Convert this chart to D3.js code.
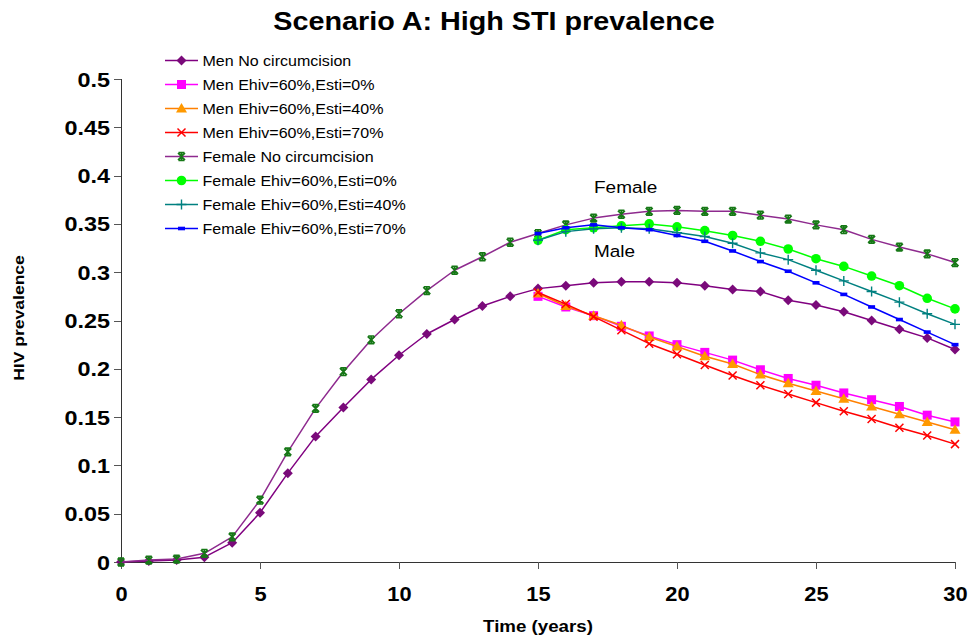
<!DOCTYPE html>
<html>
<head>
<meta charset="utf-8">
<script src="https://cdn.jsdelivr.net/npm/d3@7"></script>
<style>
  html, body { margin: 0; padding: 0; background: #fff; }
  svg { display: block; }
  text { font-family: "Liberation Sans", Arial, sans-serif; }
</style>
</head>
<body>
<svg id="chart" width="971" height="641"></svg>
<script>
// ---------------- DATA ----------------
const years = [0,1,2,3,4,5,6,7,8,9,10,11,12,13,14,15,16,17,18,19,20,21,22,23,24,25,26,27,28,29,30];
const yearsIntervention = [15,16,17,18,19,20,21,22,23,24,25,26,27,28,29,30];

const menNoCirc = [0, 0.001, 0.002, 0.005, 0.020, 0.051, 0.092, 0.130, 0.160, 0.189, 0.214, 0.236, 0.251, 0.265, 0.275, 0.283, 0.286, 0.289, 0.290, 0.290, 0.289, 0.286, 0.282, 0.280, 0.271, 0.266, 0.259, 0.250, 0.241, 0.232, 0.220];
const menEsti0  = [0.275, 0.264, 0.255, 0.244, 0.234, 0.225, 0.217, 0.209, 0.199, 0.190, 0.183, 0.175, 0.168, 0.161, 0.152, 0.145];
const menEsti40 = [0.278, 0.265, 0.255, 0.245, 0.233, 0.223, 0.213, 0.205, 0.194, 0.185, 0.177, 0.169, 0.161, 0.153, 0.145, 0.137];
const menEsti70 = [0.279, 0.267, 0.254, 0.240, 0.226, 0.215, 0.204, 0.193, 0.183, 0.174, 0.165, 0.156, 0.148, 0.139, 0.131, 0.122];

const femNoCirc = [0, 0.002, 0.003, 0.009, 0.026, 0.064, 0.114, 0.159, 0.197, 0.230, 0.257, 0.281, 0.302, 0.316, 0.331, 0.340, 0.349, 0.356, 0.360, 0.363, 0.364, 0.363, 0.363, 0.359, 0.355, 0.349, 0.344, 0.334, 0.326, 0.319, 0.310];
const femEsti0  = [0.333, 0.344, 0.346, 0.348, 0.350, 0.347, 0.343, 0.338, 0.332, 0.324, 0.314, 0.306, 0.296, 0.286, 0.273, 0.262];
const femEsti40 = [0.333, 0.342, 0.345, 0.346, 0.345, 0.341, 0.337, 0.330, 0.320, 0.313, 0.302, 0.291, 0.280, 0.269, 0.257, 0.246];
const femEsti70 = [0.340, 0.346, 0.349, 0.346, 0.344, 0.338, 0.332, 0.322, 0.311, 0.301, 0.289, 0.277, 0.264, 0.251, 0.238, 0.225];

const seriesNames = [
  "Men No circumcision", "Men Ehiv=60%,Esti=0%", "Men Ehiv=60%,Esti=40%", "Men Ehiv=60%,Esti=70%",
  "Female No circumcision", "Female Ehiv=60%,Esti=0%", "Female Ehiv=60%,Esti=40%", "Female Ehiv=60%,Esti=70%"
];
const xTicks = [0, 5, 10, 15, 20, 25, 30];
const xTickLabels = ["0", "5", "10", "15", "20", "25", "30"];
const yTicks = [0, 0.05, 0.1, 0.15, 0.2, 0.25, 0.3, 0.35, 0.4, 0.45, 0.5];
const yTickLabels = ["0", "0.05", "0.1", "0.15", "0.2", "0.25", "0.3", "0.35", "0.4", "0.45", "0.5"];
const titleText = "Scenario A: High STI prevalence";
const xTitle = "Time (years)";
const yTitle = "HIV prevalence";
const curveLabels = ["Female", "Male"];

// ---------------- STYLE ----------------
const styles = [
  { line: "#800080", fill: "#7a0a7a", marker: "diamond" },
  { line: "#ff00ff", fill: "#ff00ff", marker: "square" },
  { line: "#ff8000", fill: "#ff9900", marker: "triangle" },
  { line: "#ff0000", fill: "#ff0000", marker: "x" },
  { line: "#8e2a8e", fill: "#167816", marker: "star" },
  { line: "#00ff00", fill: "#00ff00", marker: "circle" },
  { line: "#008080", fill: "#008080", marker: "plus" },
  { line: "#0000ff", fill: "#0000ff", marker: "dash" }
];

const seriesData = [
  [years, menNoCirc], [yearsIntervention, menEsti0], [yearsIntervention, menEsti40], [yearsIntervention, menEsti70],
  [years, femNoCirc], [yearsIntervention, femEsti0], [yearsIntervention, femEsti40], [yearsIntervention, femEsti70]
].map(([xs, ys], i) => ({ name: seriesNames[i], style: styles[i], pts: xs.map((x, j) => ({ x, y: ys[j] })) }));

// ---------------- CHART ----------------
const svg = d3.select("#chart");
const x = d3.scaleLinear().domain([0, 30]).range([121, 955]);
const y = d3.scaleLinear().domain([0, 0.5]).range([562, 79]);
const SX = 1.17;

function stretchedText(g, txt, tx, ty, opts) {
  return g.append("text")
    .attr("transform", `translate(${tx},${ty}) rotate(${opts.rotate || 0}) scale(${opts.sx || SX},1)`)
    .attr("text-anchor", opts.anchor || "middle")
    .style("font-size", opts.size + "px")
    .style("font-weight", opts.weight || "normal")
    .attr("fill", "#000")
    .text(txt);
}

// Axes
const yAxis = d3.axisLeft(y).tickValues(yTicks).tickFormat((d, i) => yTickLabels[i]).tickSize(7).tickPadding(0);
const gy = svg.append("g").attr("transform", `translate(${x(0)},0)`).call(yAxis);
gy.select(".domain").attr("stroke", "#333").attr("shape-rendering", "crispEdges");
gy.selectAll(".tick line").attr("stroke", "#555").attr("shape-rendering", "crispEdges");
gy.selectAll(".tick text")
  .attr("x", -11 / 1.2).attr("dy", "0.36em")
  .attr("transform", `scale(1.2,1)`)
  .style("font-family", '"Liberation Sans", Arial, sans-serif')
  .style("font-size", "19.5px").style("font-weight", "bold").attr("fill", "#000");

const xAxis = d3.axisBottom(x).tickValues(xTicks).tickFormat((d, i) => xTickLabels[i]).tickSize(7).tickSizeOuter(0);
const gx = svg.append("g").attr("transform", `translate(0,${y(0)})`).call(xAxis);
gx.select(".domain").attr("stroke", "#333").attr("shape-rendering", "crispEdges");
gx.selectAll(".tick line").attr("stroke", "#555").attr("shape-rendering", "crispEdges");
gx.selectAll(".tick text")
  .attr("y", 39).attr("dy", 0)
  .attr("transform", `scale(1.12,1)`)
  .style("font-family", '"Liberation Sans", Arial, sans-serif')
  .style("font-size", "19.5px").style("font-weight", "bold").attr("fill", "#000");

// Marker drawing
function drawMarker(g, type, cx, cy, fill) {
  switch (type) {
    case "diamond":
      g.append("path").attr("d", `M${cx},${cy - 5}L${cx + 5},${cy}L${cx},${cy + 5}L${cx - 5},${cy}Z`).attr("fill", fill);
      break;
    case "square":
      g.append("rect").attr("x", cx - 4.5).attr("y", cy - 4.5).attr("width", 9).attr("height", 9).attr("fill", fill);
      break;
    case "triangle":
      g.append("path").attr("d", `M${cx},${cy - 5.5}L${cx + 5.5},${cy + 4}L${cx - 5.5},${cy + 4}Z`).attr("fill", fill);
      break;
    case "x":
      g.append("path").attr("d", `M${cx - 4},${cy - 4}L${cx + 4},${cy + 4}M${cx - 4},${cy + 4}L${cx + 4},${cy - 4}`)
        .attr("stroke", fill).attr("stroke-width", 1.5).attr("fill", "none");
      break;
    case "star":
      g.append("path").attr("d", `M${cx - 3.5},${cy - 3.5}L${cx + 3.5},${cy + 3.5}M${cx - 3.5},${cy + 3.5}L${cx + 3.5},${cy - 3.5}M${cx},${cy - 4}L${cx},${cy + 4}M${cx - 3},${cy - 3.8}L${cx + 3},${cy - 3.8}M${cx - 3},${cy + 3.8}L${cx + 3},${cy + 3.8}`)
        .attr("stroke", fill).attr("stroke-width", 1.7).attr("fill", "none");
      break;
    case "circle":
      g.append("circle").attr("cx", cx).attr("cy", cy).attr("r", 4.8).attr("fill", fill);
      break;
    case "plus":
      g.append("path").attr("d", `M${cx - 5},${cy}L${cx + 5},${cy}M${cx},${cy - 5}L${cx},${cy + 5}`)
        .attr("stroke", fill).attr("stroke-width", 1.4).attr("fill", "none");
      break;
    case "dash":
      g.append("rect").attr("x", cx - 3.5).attr("y", cy - 1.8).attr("width", 7).attr("height", 3.6).attr("fill", fill);
      break;
  }
}

const line = d3.line().x(d => x(d.x)).y(d => y(d.y));
const plot = svg.append("g");
seriesData.forEach(s => {
  const g = plot.append("g");
  g.append("path").datum(s.pts).attr("d", line).attr("fill", "none")
    .attr("stroke", s.style.line).attr("stroke-width", 1.5).attr("stroke-linejoin", "round");
  s.pts.forEach(p => drawMarker(g, s.style.marker, x(p.x), y(p.y), s.style.fill));
});

// Title & axis titles
stretchedText(svg, titleText, 494, 30, { size: 25, weight: "bold", sx: 1.15 });
stretchedText(svg, xTitle, 538, 632, { size: 16, weight: "bold" });
stretchedText(svg, yTitle, 24, 318, { size: 15, weight: "bold", rotate: -90 });

// Curve labels
stretchedText(svg, curveLabels[0], 594, 193, { size: 16.5, anchor: "start", sx: 1.15 });
stretchedText(svg, curveLabels[1], 594, 257, { size: 16.5, anchor: "start", sx: 1.15 });

// Legend
const legend = svg.append("g");
seriesData.forEach((s, i) => {
  const cy = 60.5 + i * 24;
  legend.append("line").attr("x1", 165).attr("x2", 198).attr("y1", cy).attr("y2", cy)
    .attr("stroke", s.style.line).attr("stroke-width", 1.5);
  drawMarker(legend, s.style.marker, 181.5, cy, s.style.fill);
  stretchedText(legend, s.name, 202.5, cy + 5.5, { size: 15, anchor: "start", sx: 1.07 });
});
</script>
</body>
</html>
